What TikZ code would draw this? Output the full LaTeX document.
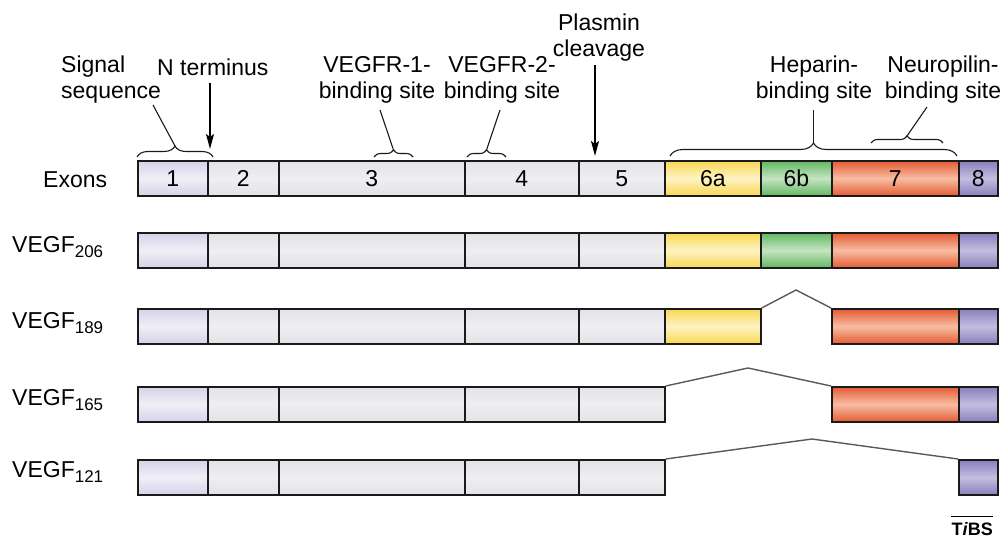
\documentclass[tikz,border=0pt]{standalone}
\usepackage{fontspec}
\setmainfont{Liberation Sans}
\usetikzlibrary{decorations.pathreplacing,arrows.meta}
\definecolor{lavE}{HTML}{D5D2E8}\definecolor{lavM}{HTML}{F0EFF7}
\definecolor{gryE}{HTML}{E2E2E7}\definecolor{gryM}{HTML}{EFEFF2}
\definecolor{yelE}{HTML}{F8D850}\definecolor{yelM}{HTML}{FEF3C4}
\definecolor{grnE}{HTML}{62B862}\definecolor{grnM}{HTML}{C6E4C2}
\definecolor{redE}{HTML}{E55B33}\definecolor{redM}{HTML}{F7BDA2}
\definecolor{purE}{HTML}{8880BD}\definecolor{purM}{HTML}{C4BEDF}
\definecolor{edge}{HTML}{1A1A1A}
\newcommand\ex[6]{\node[exbox,#5,minimum width={(#3-#2)*1pt},anchor=north west] (#1) at (#2,#4) {#6};}
\begin{document}
\begin{tikzpicture}[x=1pt,y=-1pt,
  lbl/.style={font=\fontsize{23}{26}\selectfont, inner sep=0pt},
  exbox/.style={draw=edge, line width=1.7pt, minimum height=35pt, inner sep=0pt, font=\fontsize{23}{26}\selectfont},
  lav/.style={top color=lavE, bottom color=lavE, middle color=lavM},
  gry/.style={top color=gryE, bottom color=gryE, middle color=gryM},
  yel/.style={top color=yelE, bottom color=yelE, middle color=yelM},
  grn/.style={top color=grnE, bottom color=grnE, middle color=grnM},
  red/.style={top color=redE, bottom color=redE, middle color=redM},
  pur/.style={top color=purE, bottom color=purE, middle color=purM},
  brc/.style={draw=edge, line width=1.1pt, decorate},
  pointer/.style={draw=edge, line width=1.1pt},
  arr/.style={draw=black, line width=1.3pt, -{Stealth[length=15pt,width=8pt,inset=3pt]}},
  skip/.style={draw=black!65, line width=1.4pt}
]
\useasboundingbox (0,0) rectangle (1003,537);

% ---- exon row
\ex{x1}{137}{207}{160}{lav}{1}
\ex{x2}{207}{278}{160}{gry}{2}
\ex{x3}{278}{464}{160}{gry}{3}
\ex{x4}{464}{578}{160}{gry}{4}
\ex{x5}{578}{664}{160}{gry}{5}
\ex{x6a}{664}{760}{160}{yel}{6a}
\ex{x6b}{760}{831}{160}{grn}{6b}
\ex{x7}{831}{958}{160}{red}{7}
\ex{x8}{958}{997}{160}{pur}{8}

% ---- VEGF206
\ex{a1}{137}{207}{232}{lav}{}
\ex{a2}{207}{278}{232}{gry}{}
\ex{a3}{278}{464}{232}{gry}{}
\ex{a4}{464}{578}{232}{gry}{}
\ex{a5}{578}{664}{232}{gry}{}
\ex{a6a}{664}{760}{232}{yel}{}
\ex{a6b}{760}{831}{232}{grn}{}
\ex{a7}{831}{958}{232}{red}{}
\ex{a8}{958}{997}{232}{pur}{}

% ---- VEGF189
\ex{b1}{137}{207}{308}{lav}{}
\ex{b2}{207}{278}{308}{gry}{}
\ex{b3}{278}{464}{308}{gry}{}
\ex{b4}{464}{578}{308}{gry}{}
\ex{b5}{578}{664}{308}{gry}{}
\ex{b6a}{664}{760}{308}{yel}{}
\ex{b7}{831}{958}{308}{red}{}
\ex{b8}{958}{997}{308}{pur}{}

% ---- VEGF165
\ex{c1}{137}{207}{386}{lav}{}
\ex{c2}{207}{278}{386}{gry}{}
\ex{c3}{278}{464}{386}{gry}{}
\ex{c4}{464}{578}{386}{gry}{}
\ex{c5}{578}{664}{386}{gry}{}
\ex{c7}{831}{958}{386}{red}{}
\ex{c8}{958}{997}{386}{pur}{}

% ---- VEGF121
\ex{d1}{137}{207}{459}{lav}{}
\ex{d2}{207}{278}{459}{gry}{}
\ex{d3}{278}{464}{459}{gry}{}
\ex{d4}{464}{578}{459}{gry}{}
\ex{d5}{578}{664}{459}{gry}{}
\ex{d8}{958}{997}{459}{pur}{}

% ---- splice lines
\coordinate (pb) at (796,290);
\coordinate (pc) at (748,368);
\coordinate (pd) at (812,439);
\draw[skip] (b6a.north east) -- (pb) -- (b7.north west);
\draw[skip] (c5.north east) -- (pc) -- (c7.north west);
\draw[skip] (d5.north east) -- (pd) -- (d8.north west);

% ---- row labels
\node[lbl, anchor=base west] (exl) at (43,188) {Exons};
\node[lbl, anchor=base west] (l206) at (12,253) {VEGF\raisebox{-5pt}{\fontsize{17}{17}\selectfont 206}};
\node[lbl, anchor=base west] (l189) at (12,328) {VEGF\raisebox{-5pt}{\fontsize{17}{17}\selectfont 189}};
\node[lbl, anchor=base west] (l165) at (12,405) {VEGF\raisebox{-5pt}{\fontsize{17}{17}\selectfont 165}};
\node[lbl, anchor=base west] (l121) at (12,477) {VEGF\raisebox{-5pt}{\fontsize{17}{17}\selectfont 121}};

% ---- top labels
\node[lbl, align=left, anchor=north west] (sig) at (61,56) {Signal\\sequence};
\node[lbl, anchor=north west] (nt) at (157,59) {N terminus};
\node[lbl, align=center, anchor=north] (r1) at (377,56) {VEGFR-1-\\binding site};
\node[lbl, align=center, anchor=north] (r2) at (502,56) {VEGFR-2-\\binding site};
\node[lbl, align=center, anchor=north] (pl) at (599,14) {Plasmin\\cleavage};
\node[lbl, align=center, anchor=north] (hp) at (814,56) {Heparin-\\binding site};
\node[lbl, align=center, anchor=north] (np) at (943,56) {Neuropilin-\\binding site};

% ---- braces
\draw[brc, decoration={brace, amplitude=11pt}] (137,157) -- (213,157);
\draw[brc, decoration={brace, amplitude=7pt}] (374,157) -- (413,157);
\draw[brc, decoration={brace, amplitude=7pt}] (467,157) -- (506,157);
\draw[brc, decoration={brace, amplitude=13pt}] (670,156) -- (957,156);
\draw[brc, decoration={brace, amplitude=7pt}] (871,143) -- (943,143);

\coordinate (sigT) at (175,146);
\coordinate (sigS) at (153,105);
\coordinate (r1T) at (393.5,150);
\coordinate (r1S) at (380,110);
\coordinate (r2T) at (486.5,150);
\coordinate (r2S) at (500,110);
\coordinate (hpT) at (813.5,143);
\coordinate (hpS) at (813.5,110);
\coordinate (npT) at (907,136);
\coordinate (npS) at (927,107);
\draw[pointer] (sigS) -- (sigT);
\draw[pointer] (r1S) -- (r1T);
\draw[pointer] (r2S) -- (r2T);
\draw[pointer] (hpS) -- (hpT);
\draw[pointer] (npS) -- (npT);

% ---- arrows
\coordinate (ntS) at (210,83);
\coordinate (ntE) at (210,149);
\coordinate (plS) at (595,65);
\coordinate (plE) at (595,156);
\draw[arr] (ntS) -- (ntE);
\draw[arr] (plS) -- (plE);

% ---- credit
\node[inner sep=0pt, anchor=base east, font=\fontsize{18}{18}\selectfont\bfseries] (tibs) at (993,535) {T\textit{i}BS};
\draw[line width=1pt] ([yshift=5pt]tibs.north west) -- ([yshift=5pt]tibs.north east);
\end{tikzpicture}
\end{document}
